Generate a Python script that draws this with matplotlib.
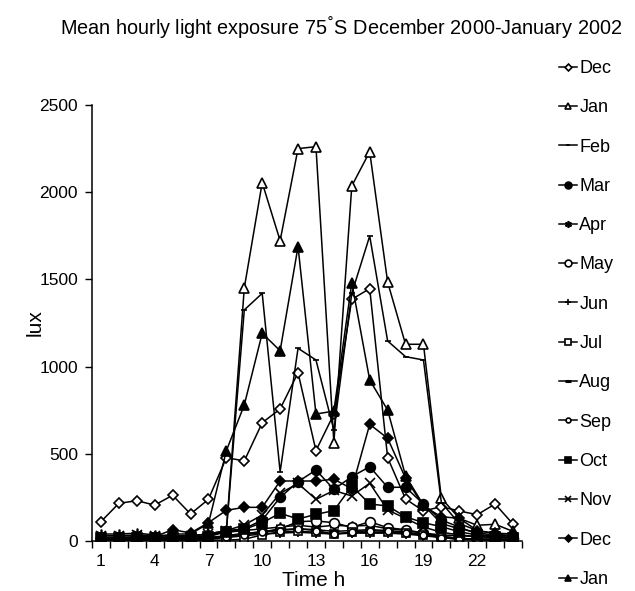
import matplotlib
matplotlib.use("Agg")
import matplotlib.pyplot as plt
from matplotlib.ticker import MultipleLocator, FixedLocator

plt.rcParams['font.family'] = ['Liberation Sans', 'DejaVu Sans']

hours = list(range(1, 25))

months = ["Dec", "Jan", "Feb", "Mar", "Apr", "May", "Jun",
          "Jul", "Aug", "Sep", "Oct", "Nov", "Dec", "Jan"]

dec00 = [111, 216, 231, 206, 262, 155, 239, 478, 459, 678, 757, 965,
         518, 728, 1386, 1447, 478, 241, 172, 197, 172, 151, 212, 97]
jan01 = [20, 20, 20, 20, 25, 30, 40, 60, 1451, 2055, 1722, 2250,
         2261, 564, 2036, 2232, 1485, 1128, 1128, 245, 130, 90, 96, 55]
feb01 = [20, 20, 20, 20, 20, 20, 30, 60, 1325, 1420, 397, 1105,
         1038, 636, 1420, 1749, 1147, 1057, 1038, 220, 100, 60, 40, 30]
mar01 = [10, 10, 10, 10, 10, 10, 30, 60, 70, 120, 250, 340,
         407, 296, 369, 426, 308, 308, 212, 120, 80, 40, 25, 20]
apr01 = [40, 40, 45, 35, 30, 30, 40, 50, 60, 70, 80, 90,
         80, 90, 85, 90, 70, 60, 45, 35, 30, 25, 20, 20]
may01 = [15, 15, 15, 15, 15, 15, 20, 30, 45, 50, 70, 111,
         115, 105, 78, 111, 76, 65, 45, 25, 15, 10, 10, 10]
jun01 = [5, 5, 5, 5, 5, 5, 10, 20, 30, 40, 45, 50,
         45, 40, 45, 45, 45, 40, 30, 20, 10, 5, 5, 5]
jul01 = [5, 5, 5, 5, 5, 5, 5, 5, 10, 35, 53, 55,
         51, 40, 50, 50, 50, 45, 35, 25, 15, 10, 5, 5]
aug01 = [10, 10, 10, 10, 10, 10, 15, 30, 40, 55, 65, 70,
         65, 55, 60, 65, 60, 50, 40, 25, 15, 10, 10, 10]
sep01 = [10, 10, 10, 10, 10, 10, 15, 25, 35, 50, 60, 70,
         60, 40, 50, 60, 55, 45, 35, 20, 10, 10, 10, 10]
oct01 = [15, 15, 15, 15, 15, 15, 25, 53, 67, 105, 159, 126,
         153, 174, 315, 212, 201, 139, 105, 82, 53, 34, 24, 20]
nov01 = [30, 30, 35, 30, 30, 30, 40, 60, 92, 149, 273, 330,
         239, 290, 258, 331, 178, 130, 80, 50, 35, 25, 20, 20]
dec01 = [20, 20, 25, 25, 65, 46, 105, 176, 193, 193, 344, 344,
         344, 354, 300, 669, 589, 360, 200, 139, 130, 60, 45, 40]
jan02 = [20, 20, 20, 20, 40, 40, 101, 518, 780, 1191, 1091, 1688,
         728, 745, 1481, 923, 751, 374, 206, 100, 70, 50, 30, 30]

series = [dec00, jan01, feb01, mar01, apr01, may01, jun01,
          jul01, aug01, sep01, oct01, nov01, dec01, jan02]

# marker, size, filled
styles = [
    ("D", 5, False),
    ("^", 7, False),
    ("_", 5, True),
    ("o", 7, True),
    ((6, 2, 0), 7, False),   # asterisk
    ("o", 7, False),
    ("+", 7, False),
    ("s", 6, False),
    ("_", 7, False),
    ("o", 5, False),
    ("s", 7, True),
    ("x", 7, False),
    ("D", 5, True),
    ("^", 7, True),
]

fig = plt.figure(figsize=(6.35, 5.91), dpi=100)
ax = fig.add_axes([92/635, 1-541/591, 430/635, 436/591])

for vals, name, (mk, ms, filled) in zip(series, months, styles):
    ax.plot(hours, vals, color="black", lw=1.1, marker=mk, markersize=ms,
            markerfacecolor="black" if filled else "white",
            markeredgecolor="black",
            markeredgewidth=2.2 if (mk == "_" and name == "Aug") else 1.2,
            label=name)

ax.set_xlim(0.5, 24.5)
ax.set_ylim(0, 2500)
ax.xaxis.set_major_locator(FixedLocator([1, 4, 7, 10, 13, 16, 19, 22]))
ax.xaxis.set_minor_locator(FixedLocator([h + 0.5 for h in range(0, 25)]))
ax.yaxis.set_major_locator(MultipleLocator(500))
ax.tick_params(axis="x", which="major", length=0, pad=9, labelsize=12.5)
ax.tick_params(axis="x", which="minor", length=5, width=1, direction="out")
ax.tick_params(axis="y", which="major", length=5, width=1, direction="out",
               labelsize=12.5, pad=5)
for s in ["top", "right"]:
    ax.spines[s].set_visible(False)
for s in ["left", "bottom"]:
    ax.spines[s].set_linewidth(1.1)

ax.set_xlabel("Time h", fontsize=15, labelpad=2)
ax.xaxis.label.set_x((314 - 92) / 430)
ax.set_ylabel("lux", fontsize=15, labelpad=-4)
fig.text(341/635, 1-28/591, "Mean hourly light exposure 75$^{\\degree}$S December 2000-January 2002",
         ha="center", va="center", fontsize=14.3)

fig.legend(loc="upper left", bbox_to_anchor=(559/635, 1-60/591), frameon=False,
           fontsize=13, handlelength=1.0, handletextpad=0.12, labelspacing=1.235,
           markerscale=0.7, borderaxespad=0, borderpad=0)

fig.savefig("out.png", dpi=100)
